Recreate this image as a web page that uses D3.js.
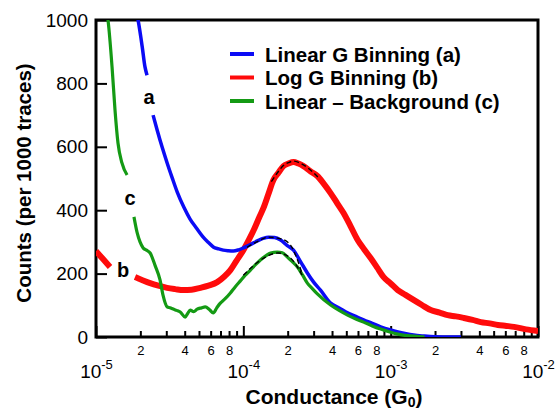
<!DOCTYPE html>
<html>
<head>
<meta charset="utf-8">
<script src="https://cdn.jsdelivr.net/npm/d3@7"></script>
<style>
  body { margin: 0; background: #fff; }
  svg text { font-family: "Liberation Sans", Arial, sans-serif; fill: #000; }
  .tick line { stroke: #000; stroke-width: 2; }
  .domain { display: none; }
</style>
</head>
<body>
<svg id="chart" width="558" height="412"></svg>
<script>
// values
const blueG = [1.80e-5, 1.93e-5, 2.06e-5, 2.15e-5, 2.22e-5, 2.33e-5, 2.44e-5, 2.6e-5, 2.81e-5, 3.04e-5, 3.29e-5, 3.56e-5, 3.95e-5, 4.35e-5, 4.8e-5, 5.34e-5, 5.8e-5, 6.25e-5, 6.8e-5, 7.31e-5, 7.9e-5, 8.55e-5, 9.3e-5, 1.0e-4, 1.12e-4, 1.245e-4, 1.36e-4, 1.48e-4, 1.63e-4, 1.79e-4, 1.98e-4, 2.19e-4, 2.45e-4, 2.72e-4, 3.0e-4, 3.34e-4, 3.91e-4, 4.5e-4, 5.1e-4, 5.8e-4, 6.55e-4, 7.5e-4, 8.55e-4, 1.0e-3, 1.12e-3, 1.25e-3, 1.43e-3, 1.7e-3, 2.0e-3, 2.5e-3, 3e-3];
const blueCounts = [1060, 1000, 915, 852, 826, NaN, 700, 653, 599, 549, 502, 457, 409, 372, 344, 315, 298, 284, 278, 274, 272, 271, 275, 281, 292, 303, 311, 315, 314, 306, 289, 274, 237, 202, 173, 148, 107, 91, 76, 65, 54, 43, 32, 22, 16, 11, 6, 3, 1, 0, 0];

const redG = [1e-5, 1.12e-5, 1.245e-5, 1.5e-5, 1.84e-5, 2.05e-5, 2.33e-5, 2.65e-5, 3.04e-5, 3.45e-5, 3.91e-5, 4.45e-5, 5.1e-5, 5.8e-5, 6.65e-5, 7.4e-5, 8.17e-5, 9.0e-5, 1.0e-4, 1.08e-4, 1.17e-4, 1.29e-4, 1.37e-4, 1.48e-4, 1.60e-4, 1.73e-4, 1.87e-4, 2.02e-4, 2.19e-4, 2.37e-4, 2.56e-4, 2.85e-4, 3.18e-4, 3.52e-4, 3.91e-4, 4.35e-4, 4.79e-4, 5.35e-4, 5.97e-4, 6.6e-4, 7.31e-4, 8.1e-4, 8.96e-4, 1.0e-3, 1.117e-3, 1.26e-3, 1.43e-3, 1.63e-3, 1.87e-3, 2.15e-3, 2.44e-3, 2.77e-3, 3.14e-3, 3.6e-3, 4.09e-3, 4.7e-3, 5.34e-3, 6.1e-3, 6.87e-3, 8.3e-3, 1e-2];
const redCounts = [271, 245, 221, NaN, 189, 180, 170, 162, 155, 151, 148, 149, 155, 162, 173, 190, 211, 241, 274, 303, 335, 380, 407, 451, 495, 518, 539, 547, 552, 547, 539, 523, 508, 483, 454, 421, 391, 349, 306, 277, 249, 219, 189, 169, 148, 133, 117, 101, 85, 77, 69, 65, 60, 54, 47, 43, 38, 35, 32, 24, 19];

const greenG = [1.15e-5, 1.21e-5, 1.285e-5, 1.346e-5, 1.41e-5, 1.50e-5, 1.625e-5, 1.7e-5, 1.81e-5, 1.9e-5, 1.99e-5, 2.09e-5, 2.2e-5, 2.33e-5, 2.52e-5, 2.72e-5, 2.85e-5, 3.04e-5, 3.18e-5, 3.34e-5, 3.53e-5, 3.73e-5, 4.03e-5, 4.2e-5, 4.36e-5, 4.6e-5, 4.86e-5, 5.2e-5, 5.51e-5, 5.9e-5, 6.25e-5, 6.6e-5, 6.98e-5, 7.5e-5, 8.17e-5, 8.8e-5, 9.55e-5, 1.03e-4, 1.117e-4, 1.21e-4, 1.306e-4, 1.42e-4, 1.53e-4, 1.70e-4, 1.84e-4, 1.99e-4, 2.15e-4, 2.33e-4, 2.52e-4, 2.72e-4, 2.95e-4, 3.18e-4, 3.91e-4, 4.5e-4, 5.1e-4, 5.8e-4, 6.55e-4, 7.5e-4, 8.55e-4, 1.0e-3, 1.12e-3, 1.25e-3, 1.43e-3, 1.7e-3];
const greenCounts = [1050, 994, 852, 716, 612, 549, 511, NaN, 379, 330, 300, 281, 274, 265, 225, 180, 132, 95, 92, 88, 84, 79, 63, 75, 85, 80, 88, 92, 95, 86, 76, 92, 107, 120, 139, 158, 177, 195, 211, 228, 243, 256, 265, 268, 266, 252, 238, 221, 196, 170, 152, 136, 101, 83, 69, 57, 47, 35, 25, 15, 9, 5, 3, 0];

// dashed fits over the peaks
const redFitG = [1.55e-4, 1.73e-4, 1.87e-4, 2.02e-4, 2.19e-4, 2.37e-4, 2.56e-4, 2.8e-4, 3.0e-4, 3.3e-4];
const redFitCounts = [490, 522, 541, 550, 555, 551, 543, 530, 518, 498];
const blueFitG = [1.06e-4, 1.245e-4, 1.48e-4, 1.79e-4, 2.09e-4, 2.3e-4, 2.52e-4];
const blueFitCounts = [283, 301, 315, 310, 290, 250, 196];
const greenFitG = [1.0e-4, 1.245e-4, 1.45e-4, 1.72e-4, 2.09e-4, 2.5e-4];
const greenFitCounts = [195, 235, 255, 265, 249, 196];

const yTicks = [0, 200, 400, 600, 800, 1000];
const decadeTicks = [1e-5, 1e-4, 1e-3, 1e-2];
const decadeLabels = ["-5", "-4", "-3", "-2"];
const minorTicks = [];
[1e-5, 1e-4, 1e-3].forEach(d => { for (let k = 2; k <= 9; k++) minorTicks.push(k * d); });
const minorLabelled = [2, 4, 6, 8];

const legendNames = ["Linear G Binning (a)", "Log G Binning (b)", "Linear \u2013 Background (c)"];
const colors = ["#0b0bf5", "#ff0b0b", "#149a14"];

const svg = d3.select('#chart');
const pLeft = 96, pRight = 538, pTop = 20, pBottom = 337;

const x = d3.scaleLog().domain([1e-5, 1e-2]).range([pLeft, pRight]);
const y = d3.scaleLinear().domain([0, 1000]).range([pBottom, pTop]);

svg.append('clipPath').attr('id', 'clip')
  .append('rect').attr('x', pLeft).attr('y', pTop)
  .attr('width', pRight - pLeft).attr('height', pBottom - pTop);

// y axis, ticks pointing inside
const yAxis = svg.append('g')
  .attr('transform', `translate(${pLeft},0)`)
  .call(d3.axisLeft(y).tickValues(yTicks).tickSize(-11).tickPadding(8).tickFormat(d3.format('d')));
yAxis.selectAll('text').style('font-size', '19px');

// minor x ticks
const xMinor = svg.append('g')
  .attr('transform', `translate(0,${pBottom})`)
  .call(d3.axisBottom(x).tickValues(minorTicks).tickSize(-6).tickPadding(9)
    .tickFormat(d => {
      const m = Math.round(d / Math.pow(10, Math.floor(Math.log10(d) + 1e-9)));
      return minorLabelled.includes(m) ? m : '';
    }));
xMinor.selectAll('text').style('font-size', '13px');

// decade ticks with 10^n labels
const xMajor = svg.append('g')
  .attr('transform', `translate(0,${pBottom})`)
  .call(d3.axisBottom(x).tickValues(decadeTicks).tickSize(-11).tickPadding(28).tickFormat(() => '10'));
xMajor.selectAll('text')
  .style('font-size', '19px')
  .each(function(d, i) {
    d3.select(this).append('tspan')
      .attr('dy', '-9')
      .style('font-size', '13px')
      .text(decadeLabels[i]);
  });

// frame
svg.append('rect')
  .attr('x', pLeft).attr('y', pTop)
  .attr('width', pRight - pLeft).attr('height', pBottom - pTop)
  .attr('fill', 'none').attr('stroke', '#000').attr('stroke-width', 3);

const line = d3.line()
  .defined(d => !isNaN(d[1]))
  .x(d => x(d[0]))
  .y(d => y(d[1]))
  .curve(d3.curveMonotoneX);

const plot = svg.append('g').attr('clip-path', 'url(#clip)');

const series = [
  { g: redG, c: redCounts, color: colors[1], w: 6 },
  { g: blueG, c: blueCounts, color: colors[0], w: 3.5 },
  { g: greenG, c: greenCounts, color: colors[2], w: 3.2 }
];
series.forEach(s => {
  plot.append('path')
    .datum(s.g.map((g, i) => [g, s.c[i]]))
    .attr('fill', 'none')
    .attr('stroke', s.color)
    .attr('stroke-width', s.w)
    .attr('stroke-linejoin', 'round')
    .attr('d', line);
});

[[redFitG, redFitCounts], [blueFitG, blueFitCounts], [greenFitG, greenFitCounts]].forEach(f => {
  plot.append('path')
    .datum(f[0].map((g, i) => [g, f[1][i]]))
    .attr('fill', 'none')
    .attr('stroke', '#000')
    .attr('stroke-width', 1.4)
    .attr('stroke-dasharray', '5,3')
    .attr('d', line);
});

// curve labels
[['a', 149, 104], ['c', 130, 205], ['b', 123, 277]].forEach(l => {
  svg.append('text')
    .attr('x', l[1]).attr('y', l[2])
    .attr('text-anchor', 'middle')
    .style('font-size', '20px').style('font-weight', 'bold')
    .text(l[0]);
});

// legend
const legend = svg.append('g');
legendNames.forEach((name, i) => {
  const cy = 54 + i * 23.5;
  legend.append('line')
    .attr('x1', 230).attr('x2', 254)
    .attr('y1', cy).attr('y2', cy)
    .attr('stroke', colors[i]).attr('stroke-width', 4);
  legend.append('text')
    .attr('x', 265).attr('y', cy + 7.5)
    .style('font-size', '20.5px').style('font-weight', 'bold')
    .text(name);
});

// axis titles
const xt = svg.append('text')
  .attr('x', 334).attr('y', 404)
  .attr('text-anchor', 'middle')
  .style('font-size', '21px').style('font-weight', 'bold')
  .text('Conductance (G');
xt.append('tspan').attr('dy', 3).style('font-size', '14px').text('0');
xt.append('tspan').attr('dy', -3).text(')');

svg.append('text')
  .attr('transform', 'translate(31,183) rotate(-90)')
  .attr('text-anchor', 'middle')
  .style('font-size', '20.5px').style('font-weight', 'bold')
  .text('Counts (per 1000 traces)');
</script>
</body>
</html>
